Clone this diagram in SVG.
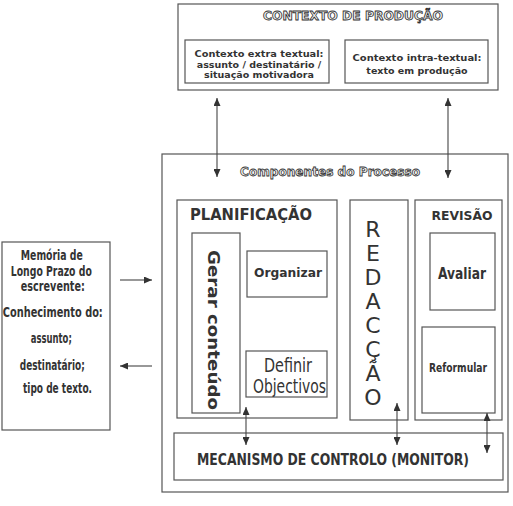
<svg xmlns="http://www.w3.org/2000/svg" width="513" height="506" viewBox="0 0 513 506">
<defs>
<marker id="ah" markerWidth="8" markerHeight="7" refX="8" refY="3.5" orient="auto-start-reverse" markerUnits="userSpaceOnUse">
<path d="M0,0 L8,3.5 L0,7 z" fill="#333"/>
</marker>
<style>
.box{fill:none;stroke:#555;stroke-width:1.2}
.ln{stroke:#444;stroke-width:1.1;fill:none}
.t{font-family:"DejaVu Sans","Liberation Sans",sans-serif;fill:#333;text-anchor:middle}
.b{font-weight:bold}
.n{font-family:"Liberation Sans Narrow","DejaVu Sans Condensed","Liberation Sans",sans-serif;fill:#333;text-anchor:middle;font-weight:bold}
.r{font-weight:normal}
.o{font-family:"DejaVu Sans","Liberation Sans",sans-serif;font-weight:bold;fill:#f2f2f2;stroke:#333;stroke-width:0.8;text-anchor:middle}
</style>
</defs>
<rect width="513" height="506" fill="#fff"/>

<g id="contexto">
<rect class="box" x="178" y="4" width="320" height="86"/>
<text class="o" x="353" y="20" font-size="11.5" textLength="180" lengthAdjust="spacingAndGlyphs">CONTEXTO DE PRODUÇÃO</text>
</g>
<g id="extra">
<rect class="box" x="185" y="40" width="144" height="43"/>
<text class="t b" font-size="9.5"><tspan x="259" y="57" textLength="129" lengthAdjust="spacingAndGlyphs">Contexto extra textual:</tspan><tspan x="259" y="67.5">assunto / destinatário /</tspan><tspan x="259" y="78">situação motivadora</tspan></text>
</g>
<g id="intra">
<rect class="box" x="345" y="40" width="143" height="43"/>
<text class="t b" font-size="9.5"><tspan x="417" y="61" textLength="129" lengthAdjust="spacingAndGlyphs">Contexto intra-textual:</tspan><tspan x="417" y="73.5">texto em produção</tspan></text>
</g>

<g id="componentes">
<rect class="box" x="162" y="154" width="346" height="338"/>
<text class="o" x="330" y="176" font-size="12.5" textLength="180" lengthAdjust="spacingAndGlyphs">Componentes do Processo</text>
</g>

<g id="planificacao">
<rect class="box" x="177" y="200" width="160" height="218"/>
<text class="n" x="251" y="220" font-size="15" textLength="122" lengthAdjust="spacingAndGlyphs" fill="#444">PLANIFICAÇÃO</text>
</g>
<g id="gerar">
<rect class="box" x="192" y="233" width="48" height="180"/>
<text class="t b" transform="translate(208,330) rotate(90)" x="0" y="0" font-size="16" textLength="160" lengthAdjust="spacingAndGlyphs">Gerar conteúdo</text>
</g>
<g id="organizar">
<rect class="box" x="247" y="251" width="80" height="46"/>
<text class="t b" x="288" y="277" font-size="13" textLength="68" lengthAdjust="spacingAndGlyphs">Organizar</text>
</g>
<g id="definir">
<rect class="box" x="246" y="351" width="81" height="46"/>
<text class="n r" font-size="19"><tspan x="288" y="372" textLength="48" lengthAdjust="spacingAndGlyphs">Definir</tspan><tspan x="289.5" y="393" textLength="73" lengthAdjust="spacingAndGlyphs">Objectivos</tspan></text>
</g>

<g id="redaccao">
<rect class="box" x="350" y="200" width="58" height="220"/>
<text class="t" font-size="22" fill="#333"><tspan x="373" y="237">R</tspan><tspan x="373" y="261">E</tspan><tspan x="373" y="285">D</tspan><tspan x="373" y="309">A</tspan><tspan x="373" y="333">C</tspan><tspan x="373" y="357">Ç</tspan><tspan x="373" y="381">Ã</tspan><tspan x="373" y="405">O</tspan></text>
</g>

<g id="revisao">
<rect class="box" x="415" y="200" width="87" height="220"/>
<text class="n" x="462" y="220" font-size="13" textLength="61" lengthAdjust="spacingAndGlyphs">REVISÃO</text>
</g>
<g id="avaliar">
<rect class="box" x="430" y="233" width="65" height="77"/>
<text class="n" x="462" y="279" font-size="16" textLength="48" lengthAdjust="spacingAndGlyphs">Avaliar</text>
</g>
<g id="reformular">
<rect class="box" x="422" y="327" width="73" height="86"/>
<text class="n" x="458" y="372" font-size="13" textLength="58" lengthAdjust="spacingAndGlyphs">Reformular</text>
</g>

<g id="mecanismo">
<rect class="box" x="174" y="433" width="329" height="47"/>
<text class="n" x="333" y="465" font-size="15" textLength="272" lengthAdjust="spacingAndGlyphs" fill="#444">MECANISMO DE CONTROLO (MONITOR)</text>
</g>

<g id="memoria">
<rect class="box" x="2" y="242" width="108" height="188"/>
<text class="n" font-size="14">
<tspan x="54" y="260" textLength="62" lengthAdjust="spacingAndGlyphs">Memória de</tspan>
<tspan x="53.5" y="276" textLength="81" lengthAdjust="spacingAndGlyphs">Longo Prazo do</tspan>
<tspan x="55" y="291" textLength="64" lengthAdjust="spacingAndGlyphs">escrevente:</tspan>
<tspan x="55" y="317" textLength="100" lengthAdjust="spacingAndGlyphs">Conhecimento do:</tspan>
<tspan x="53.5" y="343" textLength="41" lengthAdjust="spacingAndGlyphs">assunto;</tspan>
<tspan x="54.5" y="370" textLength="65" lengthAdjust="spacingAndGlyphs">destinatário;</tspan>
<tspan x="57.5" y="393" textLength="69" lengthAdjust="spacingAndGlyphs">tipo de texto.</tspan>
</text>
</g>

<g id="connectors">
<line class="ln" x1="217" y1="98" x2="217" y2="177" marker-start="url(#ah)" marker-end="url(#ah)"/>
<line class="ln" x1="448" y1="98" x2="448" y2="178" marker-start="url(#ah)" marker-end="url(#ah)"/>
<line class="ln" x1="120" y1="280" x2="152" y2="280" marker-end="url(#ah)"/>
<line class="ln" x1="152" y1="366" x2="120" y2="366" marker-end="url(#ah)"/>
<line class="ln" x1="246" y1="407" x2="246" y2="445" marker-start="url(#ah)" marker-end="url(#ah)"/>
<line class="ln" x1="397" y1="403" x2="397" y2="445" marker-start="url(#ah)" marker-end="url(#ah)"/>
<line class="ln" x1="487" y1="413" x2="487" y2="453" marker-start="url(#ah)" marker-end="url(#ah)"/>
</g>
</svg>
